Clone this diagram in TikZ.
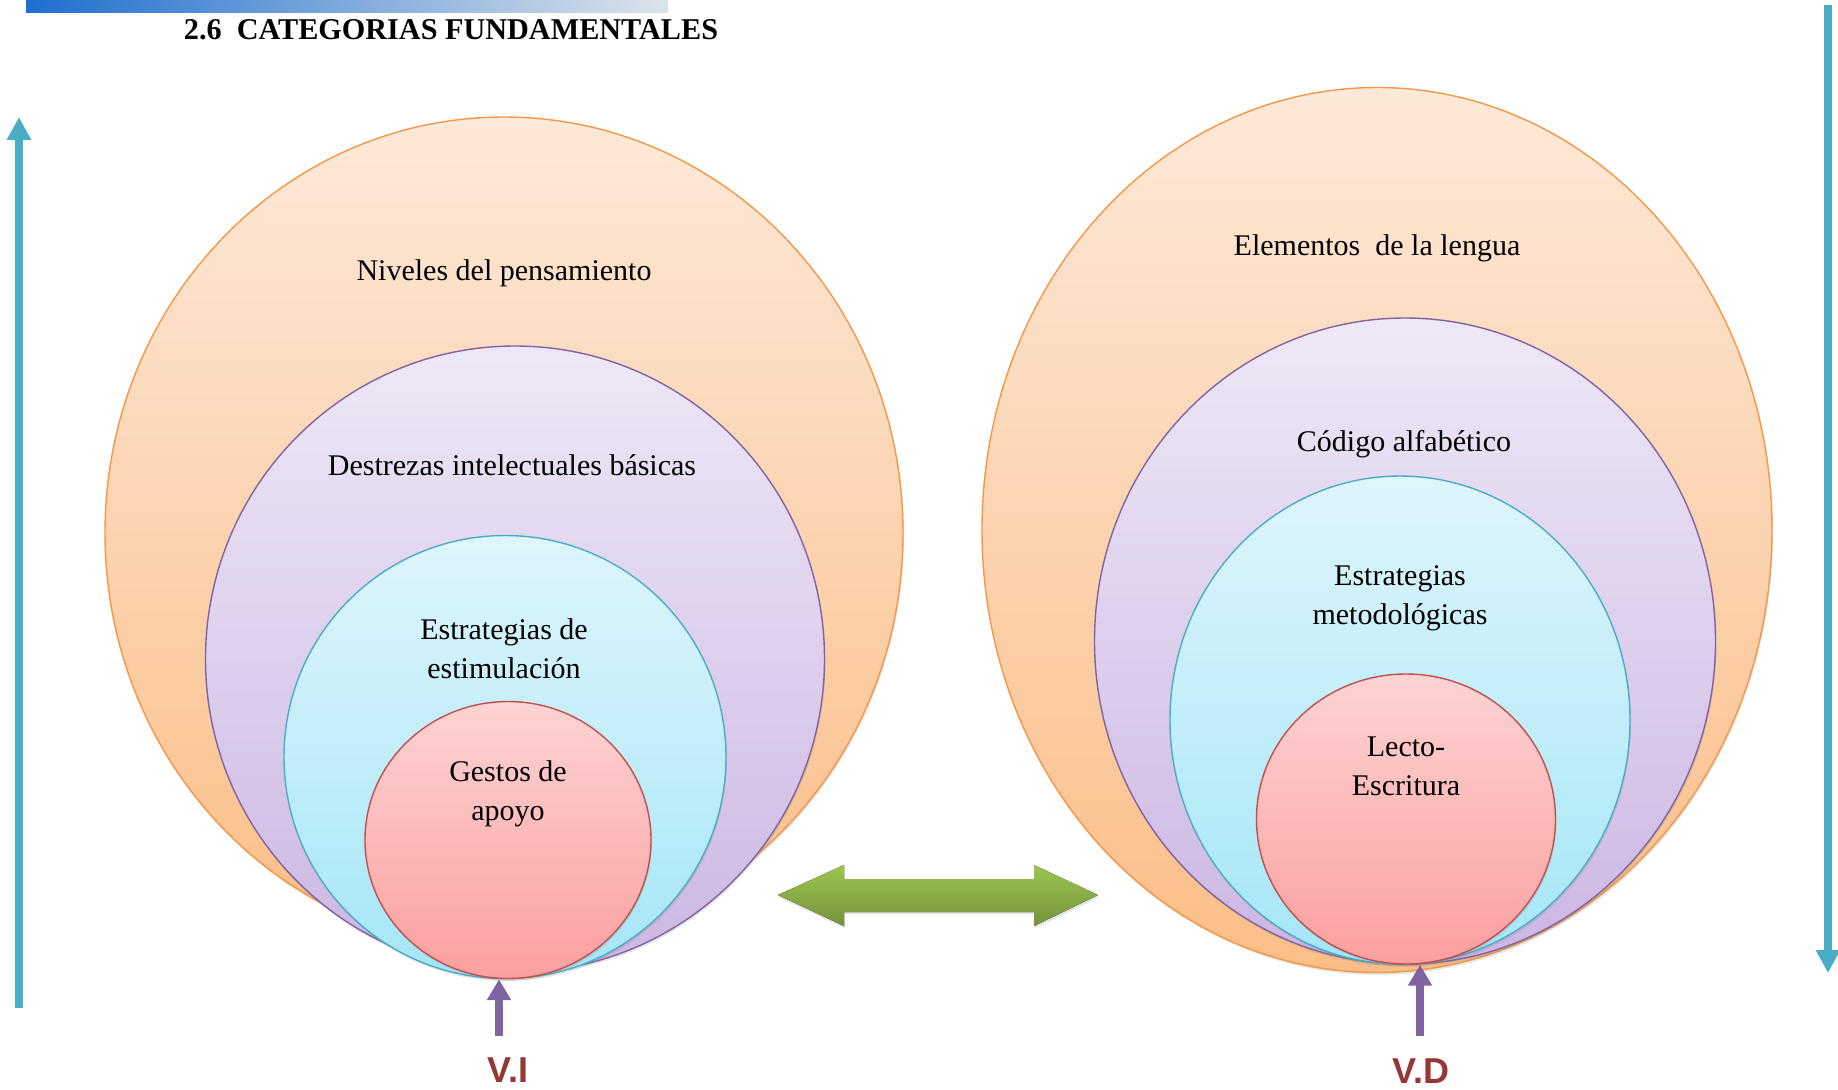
\documentclass[tikz,border=0pt]{standalone}
\usepackage{fontspec}
\setmainfont{Liberation Serif}
\newfontfamily\varsans{Liberation Sans}
\usetikzlibrary{arrows.meta, shapes.geometric, shadows}

\definecolor{orangeline}{HTML}{F79646}
\definecolor{orangetop}{HTML}{FDE9D9}
\definecolor{orangebot}{HTML}{FBBE87}
\definecolor{violetline}{HTML}{8064A2}
\definecolor{violettop}{HTML}{EEE8F6}
\definecolor{violetbot}{HTML}{CCB6E3}
\definecolor{aqualine}{HTML}{4BACC6}
\definecolor{aquatop}{HTML}{DEF5FB}
\definecolor{aquabot}{HTML}{A5E6F7}
\definecolor{roseline}{HTML}{C0504D}
\definecolor{rosetop}{HTML}{FDD3D3}
\definecolor{rosebot}{HTML}{FB9F9F}
\definecolor{greentop}{HTML}{9BC650}
\definecolor{greenbot}{HTML}{76923C}
\definecolor{varred}{HTML}{953735}
\definecolor{barleft}{HTML}{1F6FCF}
\definecolor{barright}{HTML}{DDE3EA}

\begin{document}
\begin{tikzpicture}[x=0.5pt, y=-0.5pt, semithick,
        ring/.style={ellipse, draw, line width=0.7pt, inner sep=0pt,
            drop shadow={opacity=0.2, shadow xshift=0.5pt, shadow yshift=-1.2pt}},
        cat1/.style={ring, draw=orangeline, top color=orangetop, bottom color=orangebot},
        cat2/.style={ring, draw=violetline, top color=violettop, bottom color=violetbot},
        cat3/.style={ring, draw=aqualine, top color=aquatop, bottom color=aquabot},
        cat4/.style={ring, draw=roseline, top color=rosetop, bottom color=rosebot},
        ringtext/.style={align=center, font=\fontsize{15}{19.5}\selectfont},
        flowarrow/.style={-{Triangle[width=11.5pt, length=11.5pt]}, draw=aqualine, line width=4pt},
        vararrow/.style={-{Triangle[width=11.5pt, length=10.5pt]}, draw=violetline, line width=4pt},
        varlabel/.style={font=\varsans\bfseries\fontsize{18}{20}\selectfont, text=varred}]
    \useasboundingbox (0,0) rectangle (1838,1089);

    % cabecera
    \fill[left color=barleft, right color=barright] (26,0) rectangle (668,12);
    \node[anchor=base, font=\fontsize{15.1}{17}\selectfont\bfseries] (title) at (451,39) {2.6\ \ CATEGORIAS FUNDAMENTALES};

    % flechas laterales
    \coordinate (up0) at (19,1008);
    \coordinate (up1) at (19,117);
    \coordinate (dn0) at (1828,5);
    \coordinate (dn1) at (1828,973);
    \draw[flowarrow] (up0) -- (up1);
    \draw[flowarrow] (dn0) -- (dn1);

    % variable independiente
    \node[cat1, minimum width=399pt, minimum height=416pt] (l1) at (504,533) {};
    \node[cat2, minimum width=309.5pt, minimum height=313pt] (l2) at (515,659) {};
    \node[cat3, minimum width=221pt, minimum height=221.5pt] (l3) at (505,757) {};
    \node[cat4, minimum width=143pt, minimum height=138.5pt] (l4) at (508,840) {};
    \node[ringtext] (niveles) at (504,273) {Niveles del pensamiento};
    \node[ringtext] (destrezas) at (512,465) {Destrezas intelectuales básicas};
    \node[ringtext] (estimulacion) at (504,649) {Estrategias de\\estimulación};
    \node[ringtext] (gestos) at (508,794) {Gestos de\\apoyo};

    % variable dependiente
    \node[cat1, minimum width=395pt, minimum height=442.5pt] (r1) at (1377,530) {};
    \node[cat2, minimum width=310.5pt, minimum height=323pt] (r2) at (1405,641) {};
    \node[cat3, minimum width=230pt, minimum height=244pt] (r3) at (1400,720) {};
    \node[cat4, minimum width=149.5pt, minimum height=145pt] (r4) at (1406,819) {};
    \node[ringtext] (elementos) at (1377,248) {Elementos\ \ de la lengua};
    \node[ringtext] (codigo) at (1404,444) {Código alfabético};
    \node[ringtext] (metodologicas) at (1400,598) {Estrategias\\metodológicas};
    \node[ringtext] (lecto) at (1406,766) {Lecto-\\Escritura};

    % relacion
    \fill[top color=greentop, bottom color=greenbot,
          drop shadow={opacity=0.2, shadow xshift=0.5pt, shadow yshift=-1.2pt}]
        (778,895) -- (844,865) -- (844,879) -- (1034,879) -- (1034,865) -- (1098,895)
        -- (1034,926) -- (1034,912) -- (844,912) -- (844,926) -- cycle;

    % V.I y V.D
    \coordinate (vi0) at (499,1036);
    \coordinate (vd0) at (1420,1036);
    \draw[vararrow] (vi0) -- (vi0 |- l4.south);
    \draw[vararrow] (vd0) -- (vd0 |- r4.south);
    \node[varlabel] (vi) at (508,1070) {V.I};
    \node[varlabel] (vd) at (1421,1071) {V.D};
\end{tikzpicture}
\end{document}
